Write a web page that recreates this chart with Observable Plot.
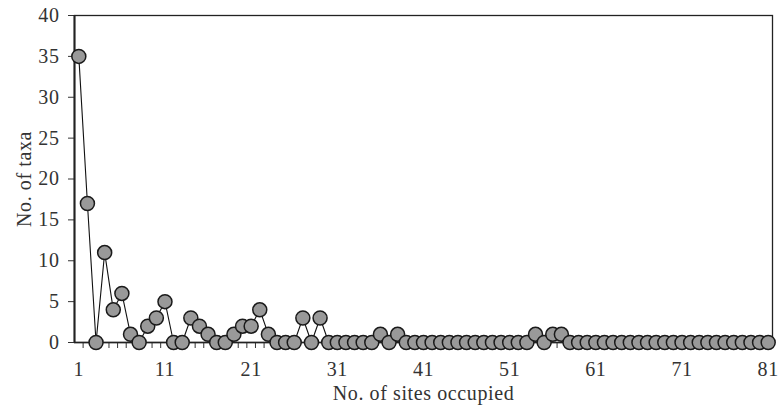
<!DOCTYPE html>
<html>
<head>
<meta charset="utf-8">
<script src="https://cdn.jsdelivr.net/npm/d3@7"></script>
<script src="https://cdn.jsdelivr.net/npm/@observablehq/plot@0.6"></script>
<style>
  html, body { margin: 0; padding: 0; background: #fff; }
  #chart svg { display: block; }
  #chart svg text { letter-spacing: 0.6px; }
</style>
</head>
<body>
<div id="chart"></div>
<script>
// No. of taxa for each number of sites occupied (1..81)
const taxa = [
  35, 17, 0, 11, 4, 6, 1, 0, 2, 3,
  5, 0, 0, 3, 2, 1, 0, 0, 1, 2,
  2, 4, 1, 0, 0, 0, 3, 0, 3, 0,
  0, 0, 0, 0, 0, 1, 0, 1, 0, 0,
  0, 0, 0, 0, 0, 0, 0, 0, 0, 0,
  0, 0, 0, 1, 0, 1, 1, 0, 0, 0,
  0, 0, 0, 0, 0, 0, 0, 0, 0, 0,
  0, 0, 0, 0, 0, 0, 0, 0, 0, 0, 0
];
const xTickLabels = [1, 11, 21, 31, 41, 51, 61, 71, 81];
const yTickLabels = [0, 5, 10, 15, 20, 25, 30, 35, 40];

const data = taxa.map((v, i) => ({sites: i + 1, taxa: v}));
const betweenTicks = data.slice(0, -1).map(d => d.sites + 0.5);

const chart = Plot.plot({
  width: 779,
  height: 413,
  marginLeft: 74,
  marginRight: 7,
  marginTop: 15,
  marginBottom: 71,
  style: {fontFamily: "'Liberation Serif', 'Times New Roman', serif", fontSize: "20px", color: "#333", background: "#fff"},
  x: {domain: [0.5, 81.5]},
  y: {domain: [0, 40]},
  marks: [
    Plot.frame({stroke: "#222", strokeWidth: 1.3}),
    Plot.axisY({ticks: yTickLabels, tickSize: 6, tickPadding: 9, stroke: "#333", fill: "#333", fontSize: 20,
      label: "No. of taxa", labelAnchor: "center", labelArrow: "none", labelOffset: 58}),
    Plot.axisX({ticks: betweenTicks, tickSize: 6, tickFormat: () => "", stroke: "#333", label: null}),
    Plot.axisX({ticks: xTickLabels, tickSize: 0, tickPadding: 19, fill: "#333", fontSize: 20,
      label: "No. of sites occupied", labelAnchor: "center", labelArrow: "none", labelOffset: 57}),
    Plot.ruleX([0.5], {stroke: "#222", strokeWidth: 2}),
    Plot.ruleY([0], {stroke: "#222", strokeWidth: 1.5}),
    Plot.line(data, {x: "sites", y: "taxa", stroke: "#111", strokeWidth: 1.1}),
    Plot.dot(data, {x: "sites", y: "taxa", r: 7, fill: "#999", stroke: "#1a1a1a", strokeWidth: 1.5})
  ]
});
document.getElementById("chart").appendChild(chart);
</script>
</body>
</html>
